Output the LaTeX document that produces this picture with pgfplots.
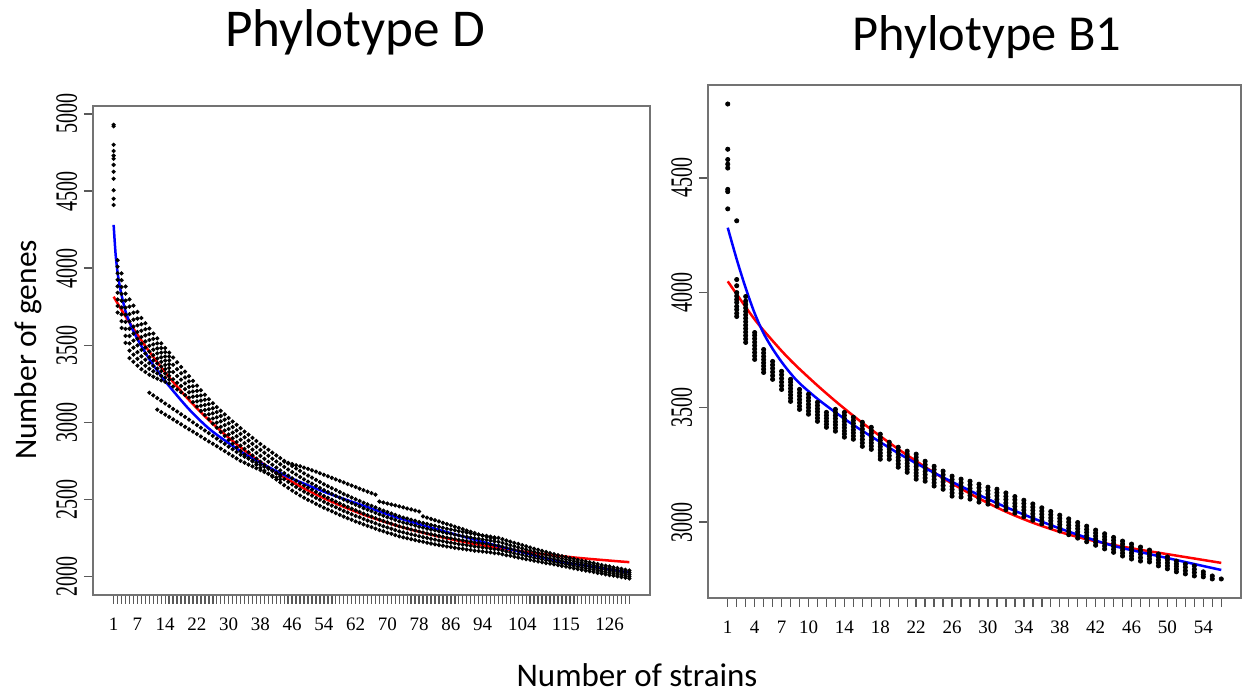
\documentclass[border=0pt]{standalone}
\usepackage{fontspec}
\setmainfont{Liberation Serif}
\newfontfamily\calibri{Carlito}
\usepackage{pgfplots}
\usepackage{pgfplotstable}
\pgfplotsset{compat=1.18}

% Phylotype D: main band of permutation points (top, upper-mid, centre, lower-mid, bottom)
\pgfplotstableread{
n T M1 C M2 B
2 4052 3967 3882 3797 3712
3 3966 3878 3789 3700 3612
4 3881 3790 3698 3606 3515
5 3797 3702 3607 3512 3417
6 3757 3666 3575 3484 3393
7 3716 3629 3542 3455 3368
8 3677 3594 3511 3428 3345
9 3643 3564 3485 3406 3327
10 3609 3534 3459 3384 3309
11 3576 3506 3436 3366 3296
12 3544 3479 3414 3349 3284
13 3512 3452 3392 3332 3272
14 3482 3427 3372 3317 3262
15 3452 3402 3352 3302 3252
16 3420 3373 3326 3279 3232
17 3389 3345 3301 3257 3213
18 3359 3318 3277 3236 3195
19 3329 3291 3253 3215 3177
20 3300 3265 3230 3195 3160
21 3269 3234 3200 3166 3131
22 3238 3204 3170 3136 3102
23 3208 3174 3141 3108 3074
24 3179 3146 3113 3080 3047
25 3150 3118 3085 3052 3020
26 3124 3091 3058 3025 2992
27 3099 3066 3032 2998 2965
28 3075 3041 3006 2971 2937
29 3052 3017 2982 2947 2912
30 3028 2993 2957 2921 2886
31 3005 2969 2933 2897 2861
32 2984 2947 2910 2873 2836
33 2962 2925 2887 2849 2812
34 2940 2903 2865 2828 2790
35 2920 2882 2844 2806 2768
36 2899 2861 2823 2785 2747
37 2879 2841 2802 2764 2725
38 2859 2821 2782 2744 2705
39 2840 2802 2763 2725 2686
40 2822 2783 2744 2705 2666
41 2803 2764 2725 2686 2647
42 2785 2746 2707 2668 2629
43 2768 2728 2689 2650 2610
44 2750 2711 2671 2631 2592
45 2733 2694 2654 2614 2575
46 2717 2677 2637 2597 2557
47 2701 2661 2621 2581 2541
48 2685 2645 2605 2565 2525
49 2669 2630 2590 2550 2511
50 2655 2615 2576 2537 2497
51 2641 2602 2563 2524 2485
52 2627 2588 2549 2510 2471
53 2613 2574 2536 2498 2459
54 2598 2560 2522 2484 2446
55 2586 2548 2510 2472 2434
56 2573 2536 2498 2460 2423
57 2561 2523 2486 2449 2411
58 2548 2511 2474 2437 2400
59 2535 2499 2462 2425 2389
60 2524 2487 2451 2415 2378
61 2512 2476 2440 2404 2368
62 2501 2465 2429 2393 2357
63 2490 2455 2419 2384 2348
64 2478 2443 2408 2373 2338
65 2468 2433 2398 2363 2328
66 2458 2424 2389 2354 2320
67 2448 2413 2379 2345 2310
68 2437 2403 2369 2335 2301
69 2427 2394 2360 2326 2293
70 2418 2384 2351 2318 2284
71 2409 2376 2343 2310 2277
72 2400 2367 2334 2301 2268
73 2390 2358 2325 2292 2260
74 2382 2350 2318 2286 2254
75 2376 2344 2312 2280 2248
76 2368 2337 2305 2273 2242
77 2362 2330 2299 2268 2236
78 2354 2323 2292 2261 2230
79 2347 2317 2286 2255 2225
80 2341 2310 2280 2250 2219
81 2334 2304 2274 2244 2214
82 2329 2299 2269 2239 2209
83 2322 2293 2263 2233 2204
84 2316 2287 2258 2229 2200
85 2310 2281 2252 2223 2194
86 2305 2277 2248 2219 2191
87 2300 2271 2243 2215 2186
88 2294 2266 2238 2210 2182
89 2289 2262 2234 2206 2179
90 2285 2257 2230 2203 2175
91 2280 2253 2226 2199 2172
92 2275 2248 2221 2194 2167
93 2271 2245 2218 2192 2165
94 2266 2240 2214 2188 2162
95 2263 2237 2211 2185 2159
96 2258 2233 2207 2181 2156
97 2254 2228 2203 2178 2152
98 2250 2225 2200 2175 2150
99 2242 2218 2193 2169 2144
100 2234 2210 2186 2162 2138
101 2226 2203 2180 2157 2134
102 2218 2196 2173 2150 2128
103 2211 2189 2167 2145 2123
104 2204 2182 2161 2140 2118
105 2196 2175 2154 2133 2112
106 2188 2168 2148 2128 2108
107 2180 2161 2141 2121 2102
108 2173 2154 2135 2116 2097
109 2166 2147 2129 2111 2092
110 2159 2141 2123 2105 2087
111 2152 2135 2118 2101 2084
112 2145 2129 2112 2095 2079
113 2138 2122 2106 2090 2074
114 2132 2116 2100 2084 2068
115 2126 2111 2095 2079 2064
116 2120 2105 2089 2074 2058
117 2115 2099 2084 2069 2053
118 2108 2093 2078 2063 2048
119 2103 2088 2073 2058 2043
120 2098 2083 2068 2053 2038
121 2092 2078 2063 2048 2034
122 2087 2072 2058 2044 2029
123 2081 2066 2052 2038 2023
124 2075 2061 2047 2033 2019
125 2070 2056 2042 2028 2014
126 2065 2051 2037 2023 2009
127 2059 2046 2032 2018 2005
128 2055 2041 2028 2015 2001
129 2050 2036 2023 2010 1996
130 2044 2031 2018 2005 1992
131 2039 2026 2013 2000 1987
}\bandD

% extra points filling the wide early part of the band
\pgfplotstableread{
n E1 E2 E3 E4
2 4010 3925 3840 3755
3 3922 3833 3745 3656
4 3835 3744 3652 3561
5 3750 3655 3560 3465
6 3712 3621 3530 3439
7 3673 3586 3499 3412
8 3636 3553 3470 3387
9 3604 3525 3446 3367
10 3572 3497 3422 3347
11 3541 3471 3401 3331
12 3512 3447 3382 3317
13 3482 3422 3362 3302
14 3455 3400 3345 3290
15 3427 3377 3327 3277
}\earlyD

% two lower strands and one upper strand
\pgfplotstableread{
n y
10 3192
11 3175
12 3157
13 3140
14 3122
15 3105
16 3087
17 3070
18 3052
19 3035
20 3017
21 3000
22 2982
23 2965
24 2947
25 2930
26 2912
27 2895
28 2877
29 2860
30 2842
31 2825
32 2807
33 2790
34 2777
35 2764
36 2751
37 2738
38 2725
39 2712
40 2699
41 2686
42 2673
43 2660
}\strandA

\pgfplotstableread{
n y
12 3082
13 3066
14 3050
15 3035
16 3019
17 3003
18 2987
19 2971
20 2955
21 2940
22 2924
23 2908
24 2892
25 2876
26 2861
27 2845
28 2829
29 2813
30 2797
31 2782
32 2766
33 2750
34 2738
35 2726
36 2714
37 2702
38 2690
39 2678
40 2666
41 2654
42 2642
43 2630
}\strandB

\pgfplotstableread{
n y
44 2745
45 2737
46 2729
47 2722
48 2715
49 2706
50 2698
51 2689
52 2680
53 2670
54 2660
55 2650
56 2640
57 2630
58 2620
59 2610
60 2600
61 2590
62 2580
63 2570
64 2560
65 2550
66 2541
67 2531
68 2486
69 2480
70 2473
71 2467
72 2461
73 2455
74 2448
75 2441
76 2435
77 2428
78 2421
79 2390
80 2382
81 2373
82 2365
83 2357
84 2348
85 2340
86 2332
87 2323
88 2315
89 2307
90 2298
91 2290
92 2282
93 2273
94 2265
95 2258
96 2252
97 2245
}\strandU

\pgfplotsset{
  rstyle/.style={
    scale only axis,
    axis line style={black!55, line width=0.9pt},
    tick style={black!65, line width=0.7pt},
    tick align=outside, tick pos=left,
    major tick length=4.5pt, minor tick length=4.5pt,
    /pgf/number format/assume math mode=true,
    /pgf/number format/1000 sep={},
    xticklabel style={font=\fontsize{9.5}{11}\selectfont, yshift=-3.5pt},
    yticklabel style={font=\fontsize{10}{12}\selectfont, rotate=90, anchor=south, yscale=1.55, yshift=-1.3pt},
    ytick={2000,2500,3000,3500,4000,4500,5000},
  },
  dots/.style={only marks, mark=*, mark size=0.85pt, black, mark options={draw=black, fill=black}},
  bigdots/.style={only marks, mark=*, mark size=1.05pt, black, mark options={draw=black, fill=black}},
}

\begin{document}
\begin{tikzpicture}
\path (0pt,0pt) rectangle (621.5pt,347pt);

\begin{axis}[rstyle,
  at={(46.5pt,49.5pt)}, anchor=south west, width=278.5pt, height=244.5pt,
  xmin=-4.2, xmax=136.2, ymin=1880, ymax=5052,
  xtick={1,7,14,22,30,38,46,54,62,70,78,86,94,104,115,126},
  minor xtick={1,...,131},
]
\addplot[dots] coordinates {(1,4930) (1,4920) (1,4800) (1,4760) (1,4730) (1,4710) (1,4670) (1,4625) (1,4580) (1,4505) (1,4450) (1,4410)};
\addplot[dots] table[x=n,y=T]{\bandD};
\addplot[dots] table[x=n,y=M1]{\bandD};
\addplot[dots] table[x=n,y=C]{\bandD};
\addplot[dots] table[x=n,y=M2]{\bandD};
\addplot[dots] table[x=n,y=B]{\bandD};
\addplot[dots] table[x=n,y=E1]{\earlyD};
\addplot[dots] table[x=n,y=E2]{\earlyD};
\addplot[dots] table[x=n,y=E3]{\earlyD};
\addplot[dots] table[x=n,y=E4]{\earlyD};
\addplot[dots] table[x=n,y=y]{\strandA};
\addplot[dots] table[x=n,y=y]{\strandB};
\addplot[dots] table[x=n,y=y]{\strandU};
\addplot[red, line width=1.25pt, smooth] coordinates {(1,3815) (3,3729) (5,3647) (8,3531) (11,3424) (15,3292) (20,3145) (25,3015) (30,2900) (36,2779) (42,2675) (48,2585) (55,2496) (64,2401) (73,2325) (82,2265) (91,2216) (100,2177) (109,2146) (118,2121) (127,2101) (131,2093)};
\addplot[blue, line width=1.25pt, smooth] coordinates {(1,4281) (1.5,4090) (2,3970) (2.5,3890) (3,3825) (4,3720) (5,3650) (6,3590) (7,3540) (8,3495) (10,3410) (12,3335) (15,3235) (20,3085) (25,2960) (30,2865) (35,2780) (40,2710) (46,2635) (55,2540) (65,2450) (73,2378) (85,2288) (98,2197) (105,2150) (113,2100) (123,2058) (131,2026)};
\end{axis}

\begin{axis}[rstyle,
  at={(354pt,48pt)}, anchor=south west, width=266.5pt, height=256.5pt,
  xmin=-1.2, xmax=58.2, ymin=2669, ymax=4905,
  xtick={1,4,7,10,14,18,22,26,30,34,38,42,46,50,54},
  minor xtick={1,...,56},
  ytick={3000,3500,4000,4500},
]
\addplot[bigdots] coordinates {
(1,4822) (1,4625) (1,4580) (1,4560) (1,4543) (1,4450) (1,4440) (1,4365)
(2,4313) (2,4057) (2,4030) (2,4000) (2,3985) (2,3970) (2,3957) (2,3940) (2,3926) (2,3910) (2,3896)
(3,3783) (3,3798) (3,3813) (3,3828) (3,3843) (3,3858) (3,3873) (3,3888) (3,3903) (3,3918) (3,3933) (3,3948) (3,3963) (3,3983)
(4,3709) (4,3724) (4,3739) (4,3754) (4,3769) (4,3784) (4,3799) (4,3814) (4,3826)
(5,3652) (5,3666) (5,3680) (5,3694) (5,3708) (5,3722) (5,3737) (5,3752)
(6,3622) (6,3638) (6,3654) (6,3670) (6,3685) (6,3700)
(7,3578) (7,3594) (7,3610) (7,3626) (7,3642) (7,3657)
(8,3526) (8,3540) (8,3554) (8,3568) (8,3582) (8,3596) (8,3610) (8,3622)
(9,3491) (9,3505) (9,3520) (9,3534) (9,3549) (9,3563) (9,3578)
(10,3470) (10,3484) (10,3499) (10,3513) (10,3528) (10,3542) (10,3557)
(11,3439) (11,3453) (11,3467) (11,3481) (11,3494) (11,3508) (11,3522)
(12,3413) (12,3426) (12,3439) (12,3452) (12,3465) (12,3478)
(13,3396) (13,3410) (13,3424) (13,3437) (13,3451) (13,3464) (13,3478) (13,3491)
(14,3370) (14,3384) (14,3397) (14,3411) (14,3424) (14,3438) (14,3451) (14,3465) (14,3478)
(15,3361) (15,3375) (15,3389) (15,3402) (15,3416) (15,3430) (15,3443) (15,3457)
(16,3330) (16,3345) (16,3360) (16,3375) (16,3390) (16,3405) (16,3420) (16,3435)
(17,3317) (17,3331) (17,3345) (17,3358) (17,3372) (17,3386) (17,3399) (17,3413)
(18,3274) (18,3288) (18,3301) (18,3315) (18,3329) (18,3342) (18,3356) (18,3369) (18,3383)
(19,3274) (19,3289) (19,3304) (19,3318) (19,3333) (19,3348)
(20,3239) (20,3253) (20,3268) (20,3282) (20,3297) (20,3311) (20,3326)
(21,3217) (21,3230) (21,3243) (21,3256) (21,3270) (21,3283) (21,3296) (21,3309)
(22,3187) (22,3201) (22,3214) (22,3228) (22,3242) (22,3255) (22,3269) (22,3282) (22,3296)
(23,3178) (23,3192) (23,3207) (23,3221) (23,3236) (23,3250) (23,3265)
(24,3157) (24,3171) (24,3186) (24,3200) (24,3214) (24,3229) (24,3243)
(25,3143) (25,3159) (25,3175) (25,3190) (25,3206) (25,3222)
(26,3113) (26,3127) (26,3142) (26,3156) (26,3171) (26,3185) (26,3200)
(27,3109) (27,3125) (27,3140) (27,3156) (27,3171) (27,3187)
(28,3100) (28,3116) (28,3131) (28,3147) (28,3162) (28,3178)
(29,3087) (29,3103) (29,3118) (29,3134) (29,3149) (29,3165)
(30,3078) (30,3093) (30,3108) (30,3122) (30,3137) (30,3152)
(31,3070) (31,3085) (31,3099) (31,3114) (31,3128) (31,3143)
(32,3054) (32,3069) (32,3083) (32,3098) (32,3112) (32,3127)
(33,3039) (33,3053) (33,3068) (33,3082) (33,3097) (33,3111)
(34,3023) (34,3037) (34,3052) (34,3066) (34,3081) (34,3095)
(35,3008) (35,3022) (35,3036) (35,3051) (35,3065) (35,3079)
(36,2992) (36,3006) (36,3020) (36,3034) (36,3048) (36,3062)
(37,2977) (37,2991) (37,3005) (37,3018) (37,3032) (37,3046)
(38,2961) (38,2975) (38,2989) (38,3002) (38,3016) (38,3030)
(39,2945) (39,2959) (39,2973) (39,2986) (39,3000) (39,3014)
(40,2930) (40,2944) (40,2957) (40,2971) (40,2984) (40,2998)
(41,2914) (41,2928) (41,2941) (41,2955) (41,2968) (41,2982)
(42,2899) (42,2912) (42,2926) (42,2939) (42,2952) (42,2965)
(43,2883) (43,2896) (43,2909) (43,2923) (43,2936) (43,2949)
(44,2868) (44,2881) (44,2894) (44,2907) (44,2920) (44,2933)
(45,2852) (45,2865) (45,2878) (45,2891) (45,2904) (45,2917)
(46,2839) (46,2852) (46,2865) (46,2878) (46,2891) (46,2904)
(47,2830) (47,2845) (47,2860) (47,2876) (47,2891)
(48,2826) (48,2839) (48,2852) (48,2865) (48,2878)
(49,2809) (49,2822) (49,2835) (49,2848) (49,2861)
(50,2796) (50,2809) (50,2822) (50,2835) (50,2848)
(51,2783) (51,2795) (51,2807) (51,2818) (51,2830)
(52,2774) (52,2788) (52,2803) (52,2817)
(53,2765) (53,2780) (53,2794) (53,2809)
(54,2761) (54,2772) (54,2783)
(55,2752) (55,2765)
(56,2752)
};
\addplot[red, line width=1.25pt, smooth] coordinates {(1,4049) (2,3993) (3,3937) (4,3883) (5,3835) (6,3790) (7,3746) (8,3705) (9,3667) (11,3595) (13,3527) (15,3463) (17,3403) (20,3318) (23,3240) (26,3168) (29,3103) (32,3045) (35,2997) (38,2957) (41,2925) (44,2900) (47,2879) (50,2860) (53,2841) (56,2822)};
\addplot[blue, line width=1.25pt, smooth] coordinates {(1,4283) (2,4145) (3,4020) (4,3910) (5,3822) (6,3755) (7,3698) (8,3648) (9,3605) (11,3537) (13,3478) (15,3423) (17,3373) (20,3300) (23,3235) (26,3175) (29,3118) (32,3065) (35,3017) (38,2972) (41,2932) (44,2896) (47,2869) (50,2843) (53,2817) (56,2791)};
\end{axis}

\node[anchor=base, font=\calibri\fontsize{26.6}{30}\selectfont] at (177.5pt,323.5pt) {Phylotype D};
\node[anchor=base, font=\calibri\fontsize{25.2}{30}\selectfont] at (493.5pt,321.5pt) {Phylotype B1};
\node[rotate=90, anchor=center, font=\calibri\fontsize{15.7}{18}\selectfont] at (14pt,172pt) {Number of genes};
\node[anchor=base, font=\calibri\fontsize{16.5}{19}\selectfont] at (318.5pt,3.5pt) {Number of strains};
\end{tikzpicture}
\end{document}
